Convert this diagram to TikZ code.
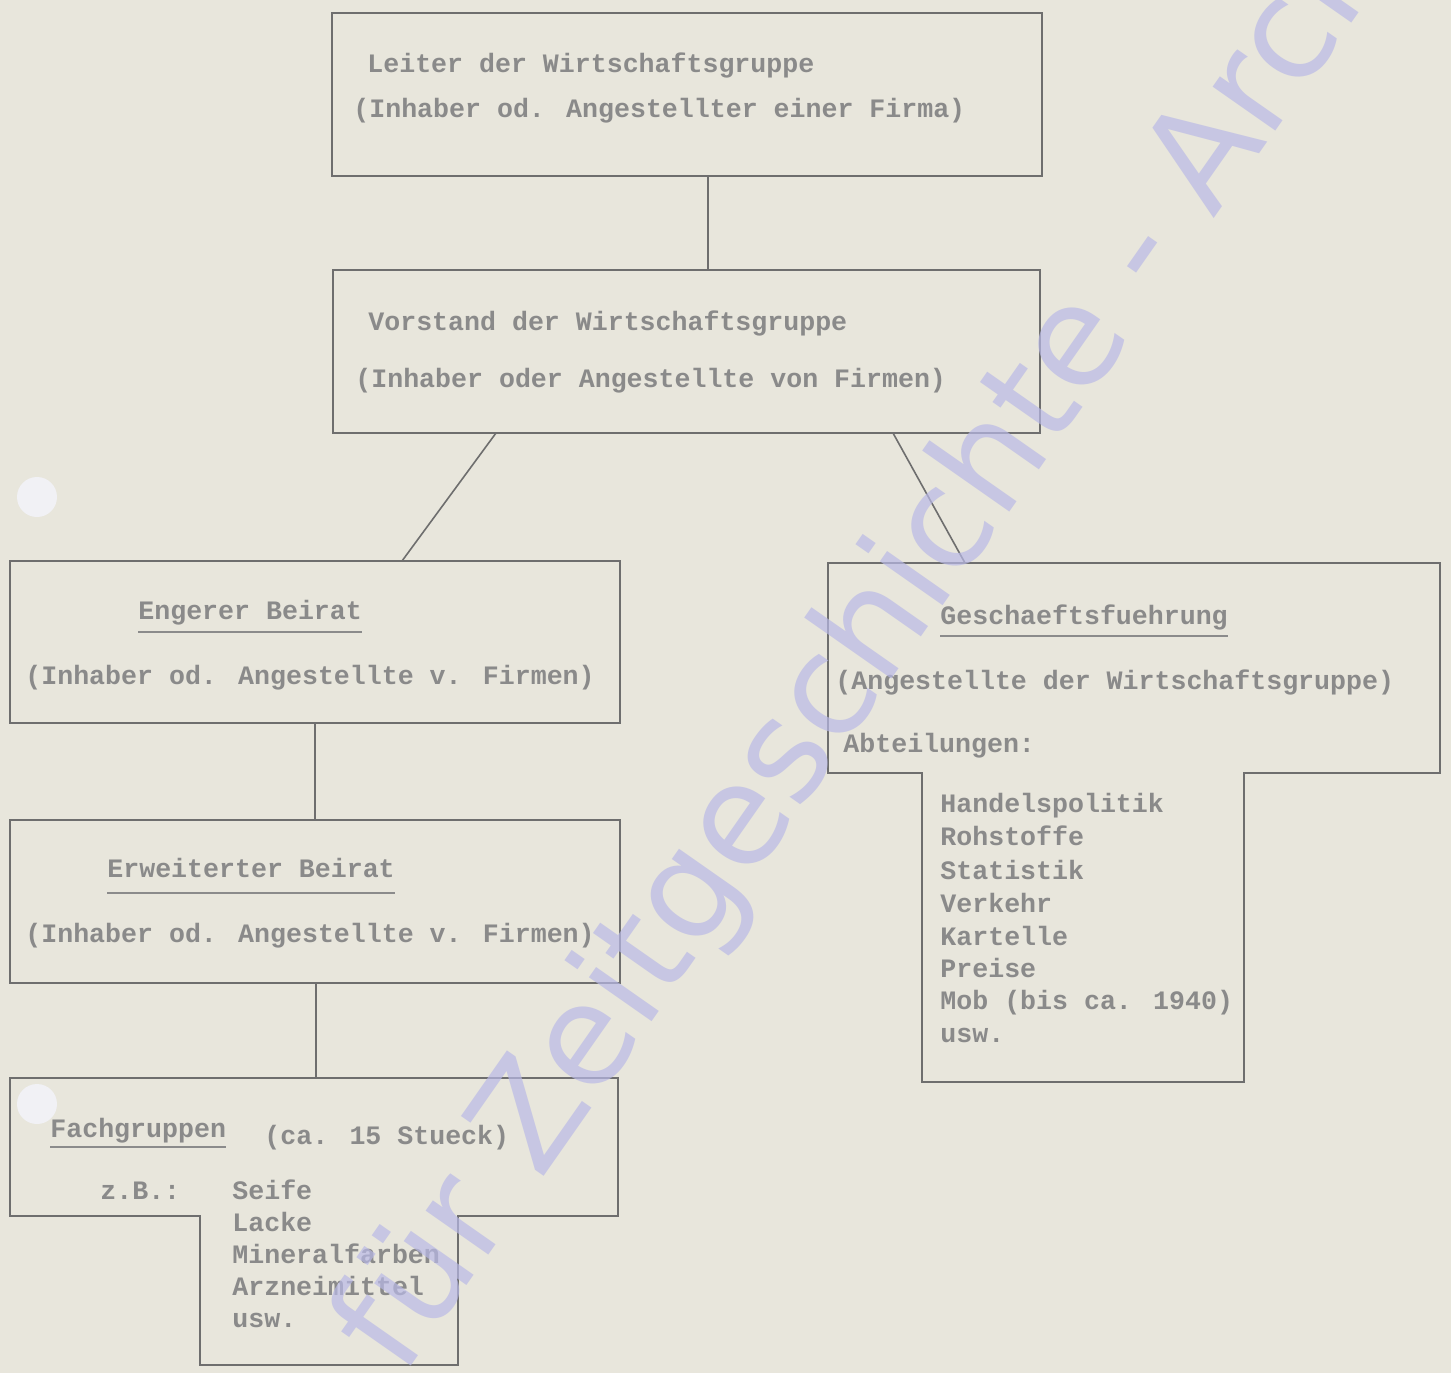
\documentclass[tikz,border=0pt]{standalone}
\usepackage{fontspec}
\newfontfamily\typew{Liberation Mono}
\newfontfamily\wmfont{DejaVu Sans}
\definecolor{paper}{HTML}{E8E6DC}
\definecolor{ink}{HTML}{8A8A8A}
\definecolor{rule}{HTML}{6E6E6E}
\definecolor{wmcol}{HTML}{B9B9E6}
\definecolor{hole}{HTML}{F1F1F5}
\tikzset{
  boxline/.style={draw=rule, line width=1.2pt, line join=miter},
  conn/.style={draw=rule, line width=0.8pt},
  uline/.style={draw=rule!80, line width=1pt},
  tw/.style={text=ink, inner sep=0pt, anchor=base west, font=\typew\bfseries\fontsize{13.3}{16}\selectfont},
  wm/.style={text=wmcol, text opacity=0.7, inner sep=0pt, anchor=base west, font=\wmfont\fontsize{70}{84}\selectfont},
}
\begin{document}
\begin{tikzpicture}[x=0.5pt, y=-0.5pt]
\useasboundingbox (0,0) rectangle (1451,1373);
\fill[paper] (0,0) rectangle (1451,1373);
\begin{scope}
\clip (0,0) rectangle (1451,1373);

% punch holes
\fill[hole] (37,497) circle (20);
\fill[hole] (37,1104) circle (20);

% boxes
\draw[boxline] (332,13) rectangle (1042,176);
\draw[boxline] (333,270) rectangle (1040,433);
\draw[boxline] (10,561) rectangle (620,723);
\draw[boxline] (10,820) rectangle (620,983);
\draw[boxline] (10,1078) -- (618,1078) -- (618,1216) -- (458,1216) -- (458,1365)
  -- (200,1365) -- (200,1216) -- (10,1216) -- cycle;
\draw[boxline] (828,563) -- (1440,563) -- (1440,773) -- (1244,773) -- (1244,1082)
  -- (922,1082) -- (922,773) -- (828,773) -- cycle;

% connector end points
\coordinate (leiterS) at (708,176);
\coordinate (vorstN) at (708,270);
\coordinate (vorstSL) at (496,433);
\coordinate (vorstSR) at (893,433);
\coordinate (engN) at (402,561);
\coordinate (gesN) at (965,563);
\coordinate (engS) at (315,723);
\coordinate (erwN) at (315,820);
\coordinate (erwS) at (316,983);
\coordinate (fachN) at (316,1078);

\draw[conn] (leiterS) -- (vorstN);
\draw[conn] (vorstSL) -- (engN);
\draw[conn] (vorstSR) -- (gesN);
\draw[conn] (engS) -- (erwN);
\draw[conn] (erwS) -- (fachN);

% texts
\node[tw] (l1) at (367,72) {Leiter der Wirtschaftsgruppe};
\node[tw] (l2) at (353,117) {(Inhaber od. Angestellter einer Firma)};

\node[tw] (v1) at (368,330) {Vorstand der Wirtschaftsgruppe};
\node[tw] (v2) at (355,387) {(Inhaber oder Angestellte von Firmen)};

\node[tw] (e1) at (138,619) {Engerer Beirat};
\node[tw] (e2) at (25,684) {(Inhaber od. Angestellte v. Firmen)};
\draw[uline] ([yshift=-6.5pt]e1.base west) -- ([yshift=-6.5pt]e1.base east);

\node[tw] (w1) at (107,877) {Erweiterter Beirat};
\node[tw] (w2) at (25,942) {(Inhaber od. Angestellte v. Firmen)};
\draw[uline] ([yshift=-8pt]w1.base west) -- ([yshift=-8pt]w1.base east);

\node[tw] (f1) at (50,1137) {Fachgruppen};
\draw[uline] ([yshift=-5pt]f1.base west) -- ([yshift=-5pt]f1.base east);
\node[tw] (f2) at (264,1144) {(ca. 15 Stueck)};
\node[tw] (f3) at (100,1199) {z.B.:};
\node[tw] (f4) at (232,1199) {Seife};
\node[tw] (f5) at (232,1231) {Lacke};
\node[tw] (f6) at (232,1263) {Mineralfarben};
\node[tw] (f7) at (232,1295) {Arzneimittel};
\node[tw] (f8) at (232,1327) {usw.};

\node[tw] (g1) at (940,624) {Geschaeftsfuehrung};
\draw[uline] ([yshift=-6pt]g1.base west) -- ([yshift=-6pt]g1.base east);
\node[tw] (g2) at (835,689) {(Angestellte der Wirtschaftsgruppe)};
\node[tw] (g3) at (843,752) {Abteilungen:};
\node[tw] (a1) at (940,812) {Handelspolitik};
\node[tw] (a2) at (940,845) {Rohstoffe};
\node[tw] (a3) at (940,879) {Statistik};
\node[tw] (a4) at (940,912) {Verkehr};
\node[tw] (a5) at (940,945) {Kartelle};
\node[tw] (a6) at (940,977) {Preise};
\node[tw] (a7) at (940,1009) {Mob (bis ca. 1940)};
\node[tw] (a8) at (940,1042) {usw.};

% watermark
\node[wm, rotate=55] (wmark) at (540,1182) {\llap{für }Zeitgeschichte - Archiv};
\end{scope}
\end{tikzpicture}
\end{document}
